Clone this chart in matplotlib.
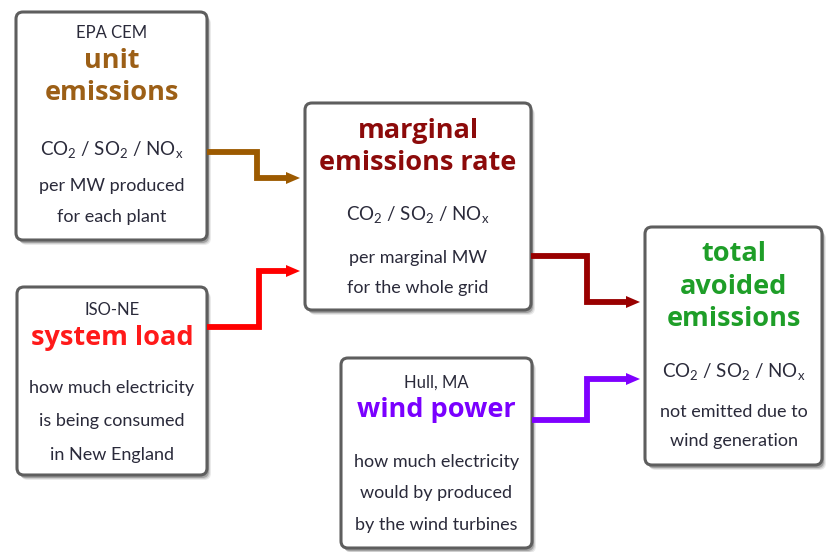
import matplotlib
matplotlib.use('Agg')
import matplotlib.pyplot as plt
from matplotlib.patches import FancyBboxPatch, Polygon

plt.rcParams['font.family'] = ['Lato', 'DejaVu Sans']
plt.rcParams['mathtext.fontset'] = 'custom'
plt.rcParams['mathtext.rm'] = 'Lato'

GAS = 'CO$_\\mathregular{2}$ / SO$_\\mathregular{2}$ / NO$_\\mathregular{x}$'

# box contents: source line, title lines, body lines
box_source = ['EPA CEM', '', 'ISO-NE', 'Hull, MA', '']
box_title = [['unit', 'emissions'],
             ['marginal', 'emissions rate'],
             ['system load'],
             ['wind power'],
             ['total', 'avoided', 'emissions']]
box_body = [[GAS, 'per MW produced', 'for each plant'],
            [GAS, 'per marginal MW', 'for the whole grid'],
            ['how much electricity', 'is being consumed', 'in New England'],
            ['how much electricity', 'would by produced', 'by the wind turbines'],
            [GAS, 'not emitted due to', 'wind generation']]
title_colors = ['#9c5f16', '#8c0a0a', '#ff1a1a', '#7a00ff', '#1e9e28']
arrow_colors = ['#9c5a00', '#ff0000', '#990000', '#7f00ff']

# layout (pixels)
box_rect = [(16, 12, 207, 240), (305, 103, 531, 310), (17, 287, 207, 475),
            (341, 358, 532, 548), (645, 227, 822, 465)]
source_y = [33, None, 310, 383, None]
title_y = [[61, 93], [131, 163], [338], [410], [254, 287, 319]]
body_y = [[150, 186, 217], [215, 258, 288], [388, 421, 455],
          [462, 493, 525], [372, 412, 441]]
arrow_paths = [[(207, 152), (257, 152), (257, 178), (300, 178)],
               [(207, 327), (259, 327), (259, 271), (300, 271)],
               [(531, 256), (587, 256), (587, 302), (640, 302)],
               [(532, 420), (587, 420), (587, 379), (640, 379)]]

fig = plt.figure(figsize=(8.27, 5.52), dpi=100)
ax = fig.add_axes([0, 0, 1, 1])
ax.set_xlim(0, 827)
ax.set_ylim(552, 0)
ax.axis('off')

for i, (x0, y0, x1, y1) in enumerate(box_rect):
    # soft shadow
    for k, a in enumerate([0.10, 0.15, 0.28]):
        off = 5 - k
        ax.add_patch(FancyBboxPatch((x0 + off - 1, y0 + off), x1 - x0, y1 - y0,
                                    boxstyle='round,pad=0,rounding_size=7',
                                    fc='#333333', ec='none', alpha=a, zorder=1))
    ax.add_patch(FancyBboxPatch((x0, y0), x1 - x0, y1 - y0,
                                boxstyle='round,pad=0,rounding_size=7',
                                fc='white', ec='#5e5e5e', lw=2.2, zorder=2))
    cx = (x0 + x1) / 2
    if box_source[i]:
        ax.text(cx, source_y[i], box_source[i], ha='center', va='center',
                fontsize=12, color='#2a2a3a', zorder=3)
    for t, y in zip(box_title[i], title_y[i]):
        ax.text(cx, y, t, ha='center', va='center', fontsize=19.5,
                family=['Open Sans', 'DejaVu Sans'], fontweight='bold',
                color=title_colors[i], zorder=3)
    for t, y in zip(box_body[i], body_y[i]):
        fs = 13.5 if t == GAS else 13
        ax.text(cx, y, t, ha='center', va='center', fontsize=fs,
                color='#2a2a3a', zorder=3)

for path, c in zip(arrow_paths, arrow_colors):
    xs = [p[0] for p in path]
    ys = [p[1] for p in path]
    ax.plot(xs[:-1] + [xs[-1] - 12], ys, color=c, lw=4.2,
            solid_joinstyle='miter', solid_capstyle='butt', zorder=2)
    ex, ey = path[-1]
    ax.add_patch(Polygon([(ex - 14, ey - 6), (ex, ey), (ex - 14, ey + 6)],
                         closed=True, fc=c, ec='none', zorder=2))

fig.savefig('out.png', dpi=100)
